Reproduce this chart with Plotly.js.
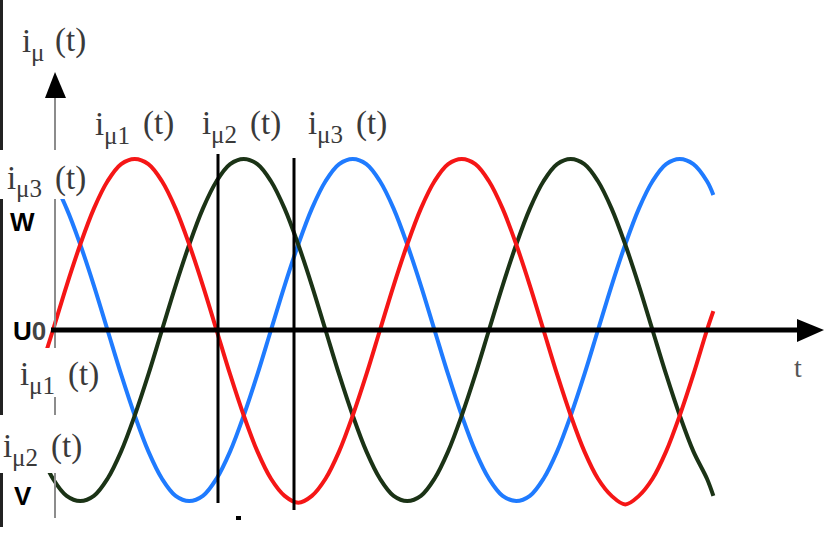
<!DOCTYPE html>
<html>
<head>
<meta charset="utf-8">
<script src="https://cdn.plot.ly/plotly-3.0.1.min.js"></script>
<style>html,body{margin:0;padding:0;background:#fff;}#chart{width:839px;height:554px;}</style>
</head>
<body>
<div id="chart"></div>
<script>
// electrical angle (degrees) at which each sample was read
var angle = [-22, 0, 15, 30, 45, 60, 75, 90, 105, 120, 135, 150, 165,
             180, 195, 210, 225, 240, 255, 270, 285, 300, 315, 330, 345,
             360, 375, 390, 405, 420, 435, 450, 465, 480, 495, 510, 525,
             540, 555, 570, 585, 600, 615, 630, 645, 660, 675, 690, 705,
             720, 727];
// phase currents, normalised to peak amplitude
var i_mu1 = [-0.37,
  0, 0.26, 0.5, 0.71, 0.87, 0.97, 1.0, 0.97, 0.87, 0.71, 0.5, 0.26,
  0, -0.26, -0.5, -0.71, -0.87, -0.97, -1.01, -0.97, -0.87, -0.71, -0.5, -0.26,
  0, 0.26, 0.5, 0.71, 0.87, 0.97, 1.0, 0.97, 0.87, 0.71, 0.5, 0.26,
  0, -0.26, -0.5, -0.71, -0.87, -0.97, -1.02, -0.97, -0.87, -0.71, -0.5, -0.26,
  0, 0.11];
var i_mu2 = [-0.62,
  -0.87, -0.97, -1.0, -0.97, -0.87, -0.71, -0.5, -0.26, 0, 0.26, 0.5, 0.71,
  0.87, 0.97, 1.0, 0.97, 0.87, 0.71, 0.5, 0.26, 0, -0.26, -0.5, -0.71,
  -0.87, -0.97, -1.0, -0.97, -0.87, -0.71, -0.5, -0.26, 0, 0.26, 0.5, 0.71,
  0.87, 0.97, 1.0, 0.97, 0.87, 0.71, 0.5, 0.26, 0, -0.26, -0.5, -0.71,
  -0.87, -0.97];
var i_mu3 = [0.99,
  0.87, 0.71, 0.5, 0.26, 0, -0.26, -0.5, -0.71, -0.87, -0.97, -1.0, -0.97,
  -0.87, -0.71, -0.5, -0.26, 0, 0.26, 0.5, 0.71, 0.87, 0.97, 1.0, 0.97,
  0.87, 0.71, 0.5, 0.26, 0, -0.26, -0.5, -0.71, -0.87, -0.97, -1.0, -0.97,
  -0.87, -0.71, -0.5, -0.26, 0, 0.26, 0.5, 0.71, 0.87, 0.97, 1.0, 0.97,
  0.87, 0.79];
var seriesNames = ["i\u03bc3 (t)", "i\u03bc2 (t)", "i\u03bc1 (t)"];
// label subscripts
var axisSub = "\u03bc";
var phaseSubs = ["\u03bc1", "\u03bc2", "\u03bc3"];

var W = 839, H = 554;
var X0 = 53, PXDEG = 327 / 360, Y0 = 330, AMP = 171;
function px(x) { return x / W; }
function py(y) { return 1 - y / H; }

function curve(yv, name, color) {
  return {x: angle, y: yv, name: name, mode: "lines", hoverinfo: "skip", showlegend: false,
    line: {width: 4, shape: "spline", smoothing: 1, color: color}};
}
var traces = [
  curve(i_mu3, seriesNames[0], "#1f7bff"),
  curve(i_mu2, seriesNames[1], "#1b3316"),
  curve(i_mu1, seriesNames[2], "#f51616")
];

function seg(x0, y0, x1, y1, color, width) {
  return {type: "line", xref: "paper", yref: "paper", layer: "above",
    x0: px(x0), y0: py(y0), x1: px(x1), y1: py(y1), line: {color: color, width: width}};
}
function rect(x0, y0, x1, y1, color) {
  return {type: "rect", xref: "paper", yref: "paper", layer: "above",
    x0: px(x0), y0: py(y0), x1: px(x1), y1: py(y1), fillcolor: color, line: {width: 0}};
}
function tri(pts, color) {
  var d = pts.map(function (p, k) { return (k ? "L" : "M") + px(p[0]) + "," + py(p[1]); }).join(" ") + " Z";
  return {type: "path", xref: "paper", yref: "paper", layer: "above", path: d, fillcolor: color, line: {width: 0}};
}

var shapes = [
  seg(1.5, 0, 1.5, 527, "#222", 3),
  seg(55, 95, 55, 518, "#8c8c8c", 2),
  tri([[55, 72], [45, 98], [66, 98]], "#000"),
  seg(51, 330, 800, 330, "#000", 5),
  tri([[824, 330], [797, 319], [797, 342]], "#000"),
  seg(218, 154, 218, 503, "#000", 3),
  seg(294, 158, 294, 510, "#000", 3),
  rect(236, 516, 241, 520, "#000"),
  rect(0, 150, 93, 199, "#fff"),
  rect(15, 348, 100, 397, "#fff"),
  rect(0, 415, 83, 473, "#fff")
];

var serif = {family: "Liberation Serif, Times New Roman, serif", size: 33, color: "#3a3a3a"};
var serifSub = {family: "Liberation Serif, Times New Roman, serif", size: 25, color: "#3a3a3a"};
var bold = {family: "Liberation Sans, Arial, sans-serif", size: 26, color: "#000"};
function label(text, x, y, font) {
  return {text: text, xref: "paper", yref: "paper", x: px(x), y: py(y), xanchor: "left", yanchor: "middle",
    showarrow: false, font: font, borderpad: 0};
}
var annotations = [];
function currentLabel(subText, x, y) {
  var two = subText.length > 1;
  annotations.push(label("i", x, y, serif));
  annotations.push(label(subText, x + 9, y + 11, serifSub));
  annotations.push(label("(t)", x + (two ? 48 : 33), y, serif));
}
currentLabel(axisSub, 21, 41);
currentLabel(phaseSubs[0], 94, 124);
currentLabel(phaseSubs[1], 201, 123);
currentLabel(phaseSubs[2], 307, 123);
currentLabel(phaseSubs[2], 6, 178);
currentLabel(phaseSubs[0], 19, 374);
currentLabel(phaseSubs[1], 2, 446);
annotations.push(label("<b>W</b>", 9, 222, bold));
annotations.push(label("<b>U</b><span style='color:#444'><b>0</b></span>", 12, 331, bold));
annotations.push(label("<b>V</b>", 13, 496, bold));
annotations.push(label("t", 793, 367, {family: "Liberation Serif, serif", size: 28, color: "#555"}));

var layout = {
  width: W, height: H,
  margin: {l: 0, r: 0, t: 0, b: 0, pad: 0},
  paper_bgcolor: "#fff", plot_bgcolor: "#fff",
  xaxis: {visible: false, range: [-X0 / PXDEG, (W - X0) / PXDEG], fixedrange: true},
  yaxis: {visible: false, range: [(Y0 - H) / AMP, Y0 / AMP], fixedrange: true},
  shapes: shapes,
  annotations: annotations,
  showlegend: false
};
Plotly.newPlot("chart", traces, layout, {staticPlot: true, displayModeBar: false});
</script>
</body>
</html>
